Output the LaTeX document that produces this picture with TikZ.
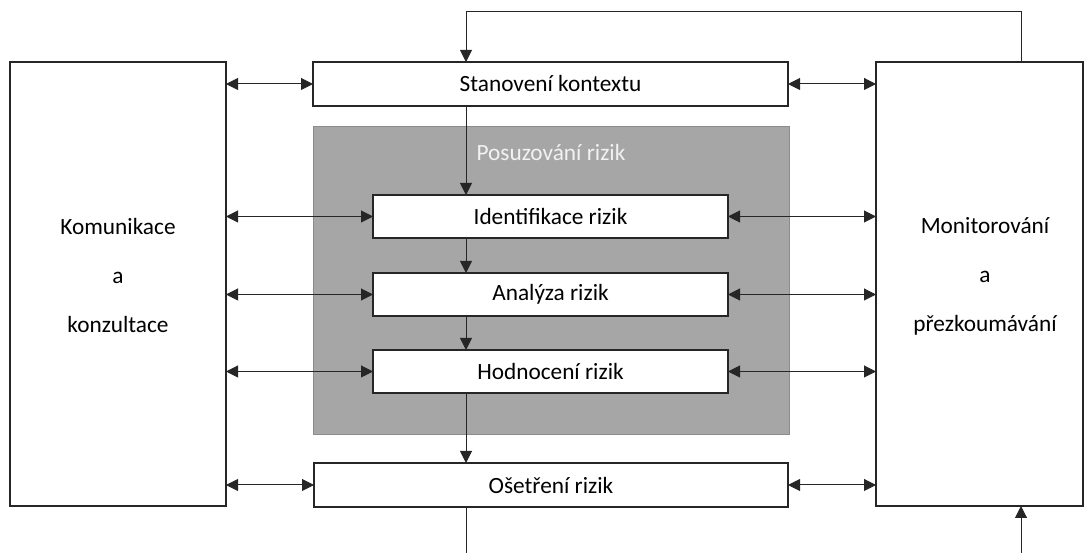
\documentclass[tikz,border=0pt]{standalone}
\usepackage{fontspec}
\setmainfont{Carlito}
\usetikzlibrary{arrows.meta,positioning,calc}
\definecolor{boxgray}{HTML}{A6A6A6}
\definecolor{boxgrayline}{HTML}{8C8C8C}
\tikzset{
  x=1pt,y=1pt,
  every node/.style={font=\fontsize{23.3}{28}\selectfont, inner sep=0pt, outer sep=0pt},
  stepbox/.style={draw=black!85, line width=1.6pt, fill=white, align=center},
  conn/.style={draw=black!85, line width=1pt},
  tip/.style={-{Triangle[length=12pt,width=12pt]}},
  bitip/.style={{Triangle[length=12pt,width=12pt]}-{Triangle[length=12pt,width=12pt]}}
}
\begin{document}
\begin{tikzpicture}
\useasboundingbox (0,0) rectangle (1086,553);
% side boxes
\node[stepbox, minimum width=216pt, minimum height=444pt] (left) at (118,269) {};
\node[align=center] (lefttext) at (118,277) {Komunikace\\[21pt]a\\[21pt]konzultace};
\node[stepbox, minimum width=207pt, minimum height=444pt] (right) at (979.5,269) {};
\node[align=center] (righttext) at (985,277) {Monitorování\\[21pt]a\\[21pt]přezkoumávání};
% gray assessment area
\node[fill=boxgray, draw=boxgrayline, line width=1pt, minimum width=476pt, minimum height=308pt] (assess) at (551,272) {};
\node[text=white!95!black] (assesslabel) at (551,400) {Posuzování rizik};
% step boxes
\node[stepbox, minimum width=475pt, minimum height=44pt] (ctx) at (550.5,469) {Stanovení kontextu};
\node[stepbox, minimum width=355pt, minimum height=43pt] (id) at (550.5,336.5) {Identifikace rizik};
\node[stepbox, minimum width=355pt, minimum height=43pt] (an) at (550.5,258.5) {Analýza rizik};
\node[stepbox, minimum width=355pt, minimum height=43pt] (ev) at (550.5,181.5) {Hodnocení rizik};
\node[stepbox, minimum width=474pt, minimum height=44pt] (tr) at (551,68) {Ošetření rizik};
% column coordinates
\coordinate (col) at (466,0);
\coordinate (fb) at (1021,0);
\coordinate (topline) at (0,541);
\coordinate (bottom) at (0,0);
% vertical flow
\draw[conn,tip] (ctx.south -| col) -- (id.north -| col);
\draw[conn,tip] (id.south -| col) -- (an.north -| col);
\draw[conn,tip] (an.south -| col) -- (ev.north -| col);
\draw[conn,tip] (ev.south -| col) -- (tr.north -| col);
\draw[conn] (tr.south -| col) -- (bottom -| col);
% feedback loop
\draw[conn,tip] (right.north -| fb) -- (topline -| fb) -- (topline -| col) -- (ctx.north -| col);
\draw[conn,tip] (bottom -| fb) -- (right.south -| fb);
% bidirectional arrows to side boxes
\foreach \n in {ctx,id,an,ev,tr}{
  \draw[conn,bitip] (left.east |- \n.west) -- (\n.west);
  \draw[conn,bitip] (\n.east) -- (right.west |- \n.east);
}
\end{tikzpicture}
\end{document}
